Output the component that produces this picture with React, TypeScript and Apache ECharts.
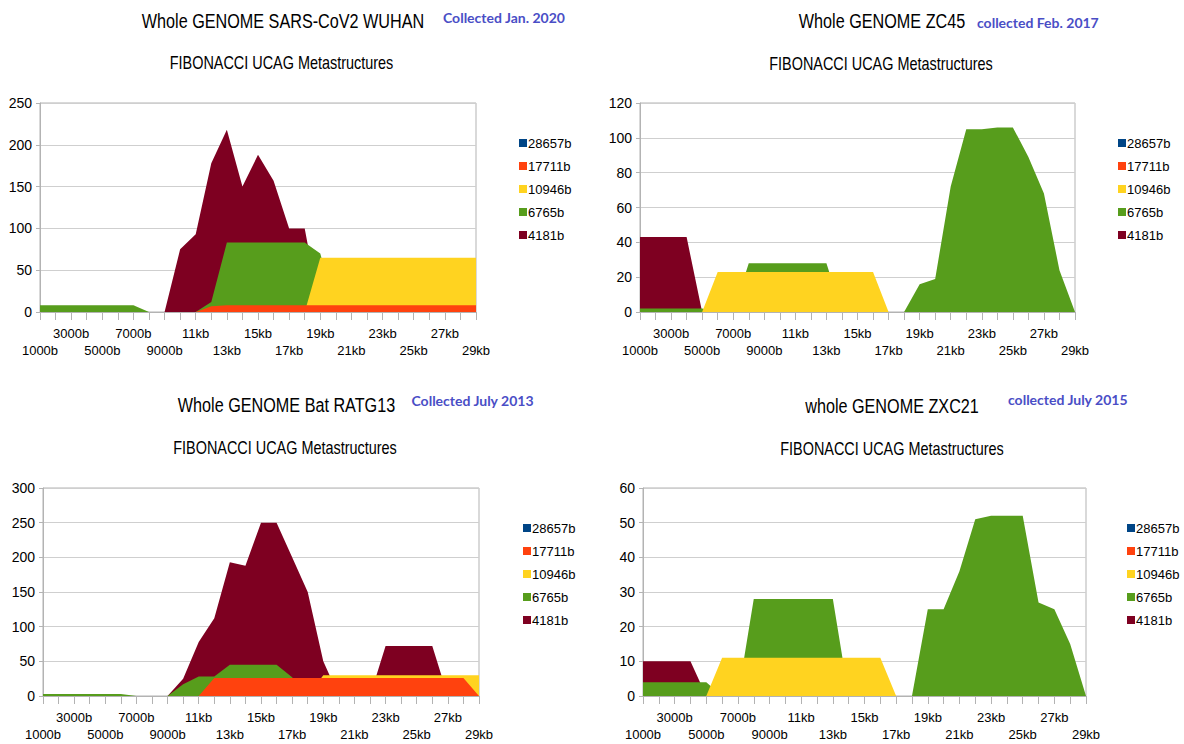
import React, { useEffect, useRef } from 'react';
import * as echarts from 'echarts';

const categories = [
  '1000b', '2000b', '3000b', '4000b', '5000b', '6000b', '7000b', '8000b', '9000b',
  '10kb', '11kb', '12kb', '13kb', '14kb', '15kb', '16kb', '17kb', '18kb', '19kb',
  '20kb', '21kb', '22kb', '23kb', '24kb', '25kb', '26kb', '27kb', '28kb', '29kb',
];

// draw order (back to front)
const seriesNames = ['4181b', '6765b', '10946b', '17711b', '28657b'];
const legendOrder = ['28657b', '17711b', '10946b', '6765b', '4181b'];
const seriesColors = ['#7e0021', '#579d1c', '#ffd320', '#ff420e', '#004586'];

// Whole GENOME SARS-CoV2 WUHAN
const wuhan4181 = [0, 0, 0, 0, 0, 0, 0, 0, 0, 75, 93, 178, 218, 150, 188, 157, 100, 100, 0, 0, 0, 0, 0, 0, 0, 0, 0, 0, 0];
const wuhan6765 = [8, 8, 8, 8, 8, 8, 8, 0, 0, 0, 0, 12, 83, 83, 83, 83, 83, 83, 70, 0, 0, 0, 0, 0, 0, 0, 0, 0, 0];
const wuhan10946 = [0, 0, 0, 0, 0, 0, 0, 0, 0, 0, 0, 0, 0, 0, 0, 0, 0, 0, 65, 65, 65, 65, 65, 65, 65, 65, 65, 65, 65];
const wuhan17711 = [0, 0, 0, 0, 0, 0, 0, 0, 0, 0, 0, 7, 8, 8, 8, 8, 8, 8, 8, 8, 8, 8, 8, 8, 8, 8, 8, 8, 8];
const wuhan28657 = [0, 0, 0, 0, 0, 0, 0, 0, 0, 0, 0, 0, 0, 0, 0, 0, 0, 0, 0, 0, 0, 0, 0, 0, 0, 0, 0, 0, 0];

// Whole GENOME ZC45
const zc45_4181 = [43, 43, 43, 43, 0, 0, 0, 0, 0, 0, 0, 0, 0, 0, 0, 0, 0, 0, 0, 0, 0, 0, 0, 0, 0, 0, 0, 0, 0];
const zc45_6765 = [2, 2, 2, 2, 2, 0, 0, 28, 28, 28, 28, 28, 28, 0, 0, 0, 0, 0, 16, 19, 72, 105, 105, 106, 106, 89, 68, 24, 0];
const zc45_10946 = [0, 0, 0, 0, 0, 23, 23, 23, 23, 23, 23, 23, 23, 23, 23, 23, 0, 0, 0, 0, 0, 0, 0, 0, 0, 0, 0, 0, 0];
const zc45_17711 = [0, 0, 0, 0, 0, 0, 0, 0, 0, 0, 0, 0, 0, 0, 0, 0, 0, 0, 0, 0, 0, 0, 0, 0, 0, 0, 0, 0, 0];
const zc45_28657 = [0, 0, 0, 0, 0, 0, 0, 0, 0, 0, 0, 0, 0, 0, 0, 0, 0, 0, 0, 0, 0, 0, 0, 0, 0, 0, 0, 0, 0];

// Whole GENOME Bat RATG13
const ratg_4181 = [0, 0, 0, 0, 0, 0, 0, 0, 0, 25, 78, 112, 193, 188, 250, 250, 200, 150, 50, 0, 0, 0, 72, 72, 72, 72, 0, 0, 0];
const ratg_6765 = [3, 3, 3, 3, 3, 3, 0, 0, 0, 17, 28, 28, 45, 45, 45, 45, 27, 0, 0, 0, 0, 0, 0, 0, 0, 0, 0, 0, 0];
const ratg_10946 = [0, 0, 0, 0, 0, 0, 0, 0, 0, 0, 0, 0, 0, 0, 0, 0, 0, 0, 30, 30, 30, 30, 30, 30, 30, 30, 30, 30, 30];
const ratg_17711 = [0, 0, 0, 0, 0, 0, 0, 0, 0, 0, 0, 26, 26, 26, 26, 26, 26, 26, 26, 26, 26, 26, 26, 26, 26, 26, 26, 26, 0];
const ratg_28657 = [0, 0, 0, 0, 0, 0, 0, 0, 0, 0, 0, 0, 0, 0, 0, 0, 0, 0, 0, 0, 0, 0, 0, 0, 0, 0, 0, 0, 0];

// whole GENOME ZXC21
const zxc_4181 = [10, 10, 10, 10, 0, 0, 0, 0, 0, 0, 0, 0, 0, 0, 0, 0, 0, 0, 0, 0, 0, 0, 0, 0, 0, 0, 0, 0, 0];
const zxc_6765 = [4, 4, 4, 4, 4, 0, 0, 28, 28, 28, 28, 28, 28, 0, 0, 0, 0, 0, 25, 25, 36, 51, 52, 52, 52, 27, 25, 15, 0];
const zxc_10946 = [0, 0, 0, 0, 0, 11, 11, 11, 11, 11, 11, 11, 11, 11, 11, 11, 0, 0, 0, 0, 0, 0, 0, 0, 0, 0, 0, 0, 0];
const zxc_17711 = [0, 0, 0, 0, 0, 0, 0, 0, 0, 0, 0, 0, 0, 0, 0, 0, 0, 0, 0, 0, 0, 0, 0, 0, 0, 0, 0, 0, 0];
const zxc_28657 = [0, 0, 0, 0, 0, 0, 0, 0, 0, 0, 0, 0, 0, 0, 0, 0, 0, 0, 0, 0, 0, 0, 0, 0, 0, 0, 0, 0, 0];

const titles = ['Whole GENOME SARS-CoV2 WUHAN', 'Whole GENOME ZC45', 'Whole GENOME Bat RATG13', 'whole GENOME ZXC21'];
const notes = ['Collected Jan. 2020', 'collected Feb. 2017', 'Collected July 2013', 'collected July 2015'];
const subtitle = 'FIBONACCI UCAG Metastructures';
const yMax = [250, 120, 300, 60];
const yStep = [50, 20, 50, 10];

const panelData = [
  [wuhan4181, wuhan6765, wuhan10946, wuhan17711, wuhan28657],
  [zc45_4181, zc45_6765, zc45_10946, zc45_17711, zc45_28657],
  [ratg_4181, ratg_6765, ratg_10946, ratg_17711, ratg_28657],
  [zxc_4181, zxc_6765, zxc_10946, zxc_17711, zxc_28657],
];

// layout
const grids = [
  { left: 40, top: 103, width: 436, height: 209 },
  { left: 640, top: 103, width: 435, height: 209 },
  { left: 43, top: 488, width: 436, height: 208 },
  { left: 643, top: 488, width: 443, height: 208 },
];
const titlePos = [
  { tx: 283, ty: 21, nx: 443, ny: 17, sx: 281.5, sy: 63 },
  { tx: 882, ty: 21.5, nx: 977, ny: 22, sx: 881, sy: 63.5 },
  { tx: 286.5, ty: 405.5, nx: 411.5, ny: 400, sx: 285, sy: 447.5 },
  { tx: 892, ty: 406.5, nx: 1008, ny: 399, sx: 892, sy: 449 },
];
const legendPos = [
  { left: 519, top: 136 },
  { left: 1118, top: 136 },
  { left: 523, top: 521 },
  { left: 1127, top: 521 },
];

const FONT = '"Liberation Sans", Arial, sans-serif';
const GRAY = '#b3b3b3';

export default function App() {
  const ref = useRef<HTMLDivElement>(null);

  useEffect(() => {
    if (!ref.current) return;
    const chart = echarts.init(ref.current, null, { renderer: 'svg' });

    const graphic: any[] = [];
    titlePos.forEach((p, i) => {
      graphic.push({
        type: 'text', x: p.tx, y: p.ty, scaleX: 0.81,
        style: { text: titles[i], fontSize: 20, fontFamily: FONT, fill: '#000', textAlign: 'center', textVerticalAlign: 'middle', align: 'center', verticalAlign: 'middle' },
      });
      graphic.push({
        type: 'text', x: p.nx, y: p.ny,
        style: { text: notes[i], fontSize: 14, fontWeight: 'bold', fontFamily: 'Lato, "Open Sans", sans-serif', fill: '#4a4ec6', textAlign: 'left', textVerticalAlign: 'middle', align: 'left', verticalAlign: 'middle' },
      });
      graphic.push({
        type: 'text', x: p.sx, y: p.sy, scaleX: 0.78,
        style: { text: subtitle, fontSize: 18.5, fontFamily: FONT, fill: '#000', textAlign: 'center', textVerticalAlign: 'middle', align: 'center', verticalAlign: 'middle' },
      });
    });

    const series: any[] = [];
    panelData.forEach((arrs, pi) => {
      arrs.forEach((data, si) => {
        series.push({
          type: 'line',
          name: seriesNames[si],
          xAxisIndex: pi,
          yAxisIndex: pi,
          data,
          symbol: 'none',
          silent: true,
          color: seriesColors[si],
          itemStyle: { color: seriesColors[si] },
          lineStyle: { width: 0, color: seriesColors[si] },
          areaStyle: { color: seriesColors[si], opacity: 1 },
          z: 2 + si,
        });
      });
    });

    const option: any = {
      animation: false,
      backgroundColor: '#fff',
      graphic,
      grid: grids.map((g) => ({ ...g, show: true, borderColor: GRAY, borderWidth: 1, backgroundColor: 'transparent' })),
      xAxis: grids.map((_, i) => ({
        type: 'category',
        gridIndex: i,
        data: categories,
        boundaryGap: false,
        axisLine: { show: true, lineStyle: { color: GRAY } },
        axisTick: { show: true, interval: 0, length: 8, lineStyle: { color: GRAY } },
        splitLine: { show: false },
        axisLabel: {
          interval: 0,
          color: '#000',
          fontSize: 13,
          fontFamily: FONT,
          lineHeight: 17,
          margin: 13,
          formatter: (v: string, idx: number) => (idx % 4 === 0 ? '\n' + v : idx % 4 === 2 ? v : ''),
        },
      })),
      yAxis: grids.map((_, i) => ({
        type: 'value',
        gridIndex: i,
        min: 0,
        max: yMax[i],
        interval: yStep[i],
        axisLine: { show: true, lineStyle: { color: GRAY } },
        axisTick: { show: true, length: 4, lineStyle: { color: GRAY } },
        splitLine: { show: true, lineStyle: { color: '#cfcfcf' } },
        axisLabel: { color: '#000', fontSize: 14, fontFamily: FONT, margin: 8 },
      })),
      legend: legendPos.map((l) => ({
        orient: 'vertical',
        left: l.left,
        top: l.top,
        padding: 0,
        data: legendOrder,
        icon: 'rect',
        itemWidth: 8,
        itemHeight: 8,
        itemGap: 9,
        selectedMode: false,
        textStyle: { color: '#000', fontSize: 13, fontFamily: FONT, lineHeight: 14, padding: [0, 0, 0, -4] },
      })),
      series,
    };

    chart.setOption(option);
    return () => chart.dispose();
  }, []);

  return (
    <div
      ref={ref}
      style={{ position: 'fixed', left: 0, top: 0, width: 1184, height: 744, background: '#fff' }}
    />
  );
}
